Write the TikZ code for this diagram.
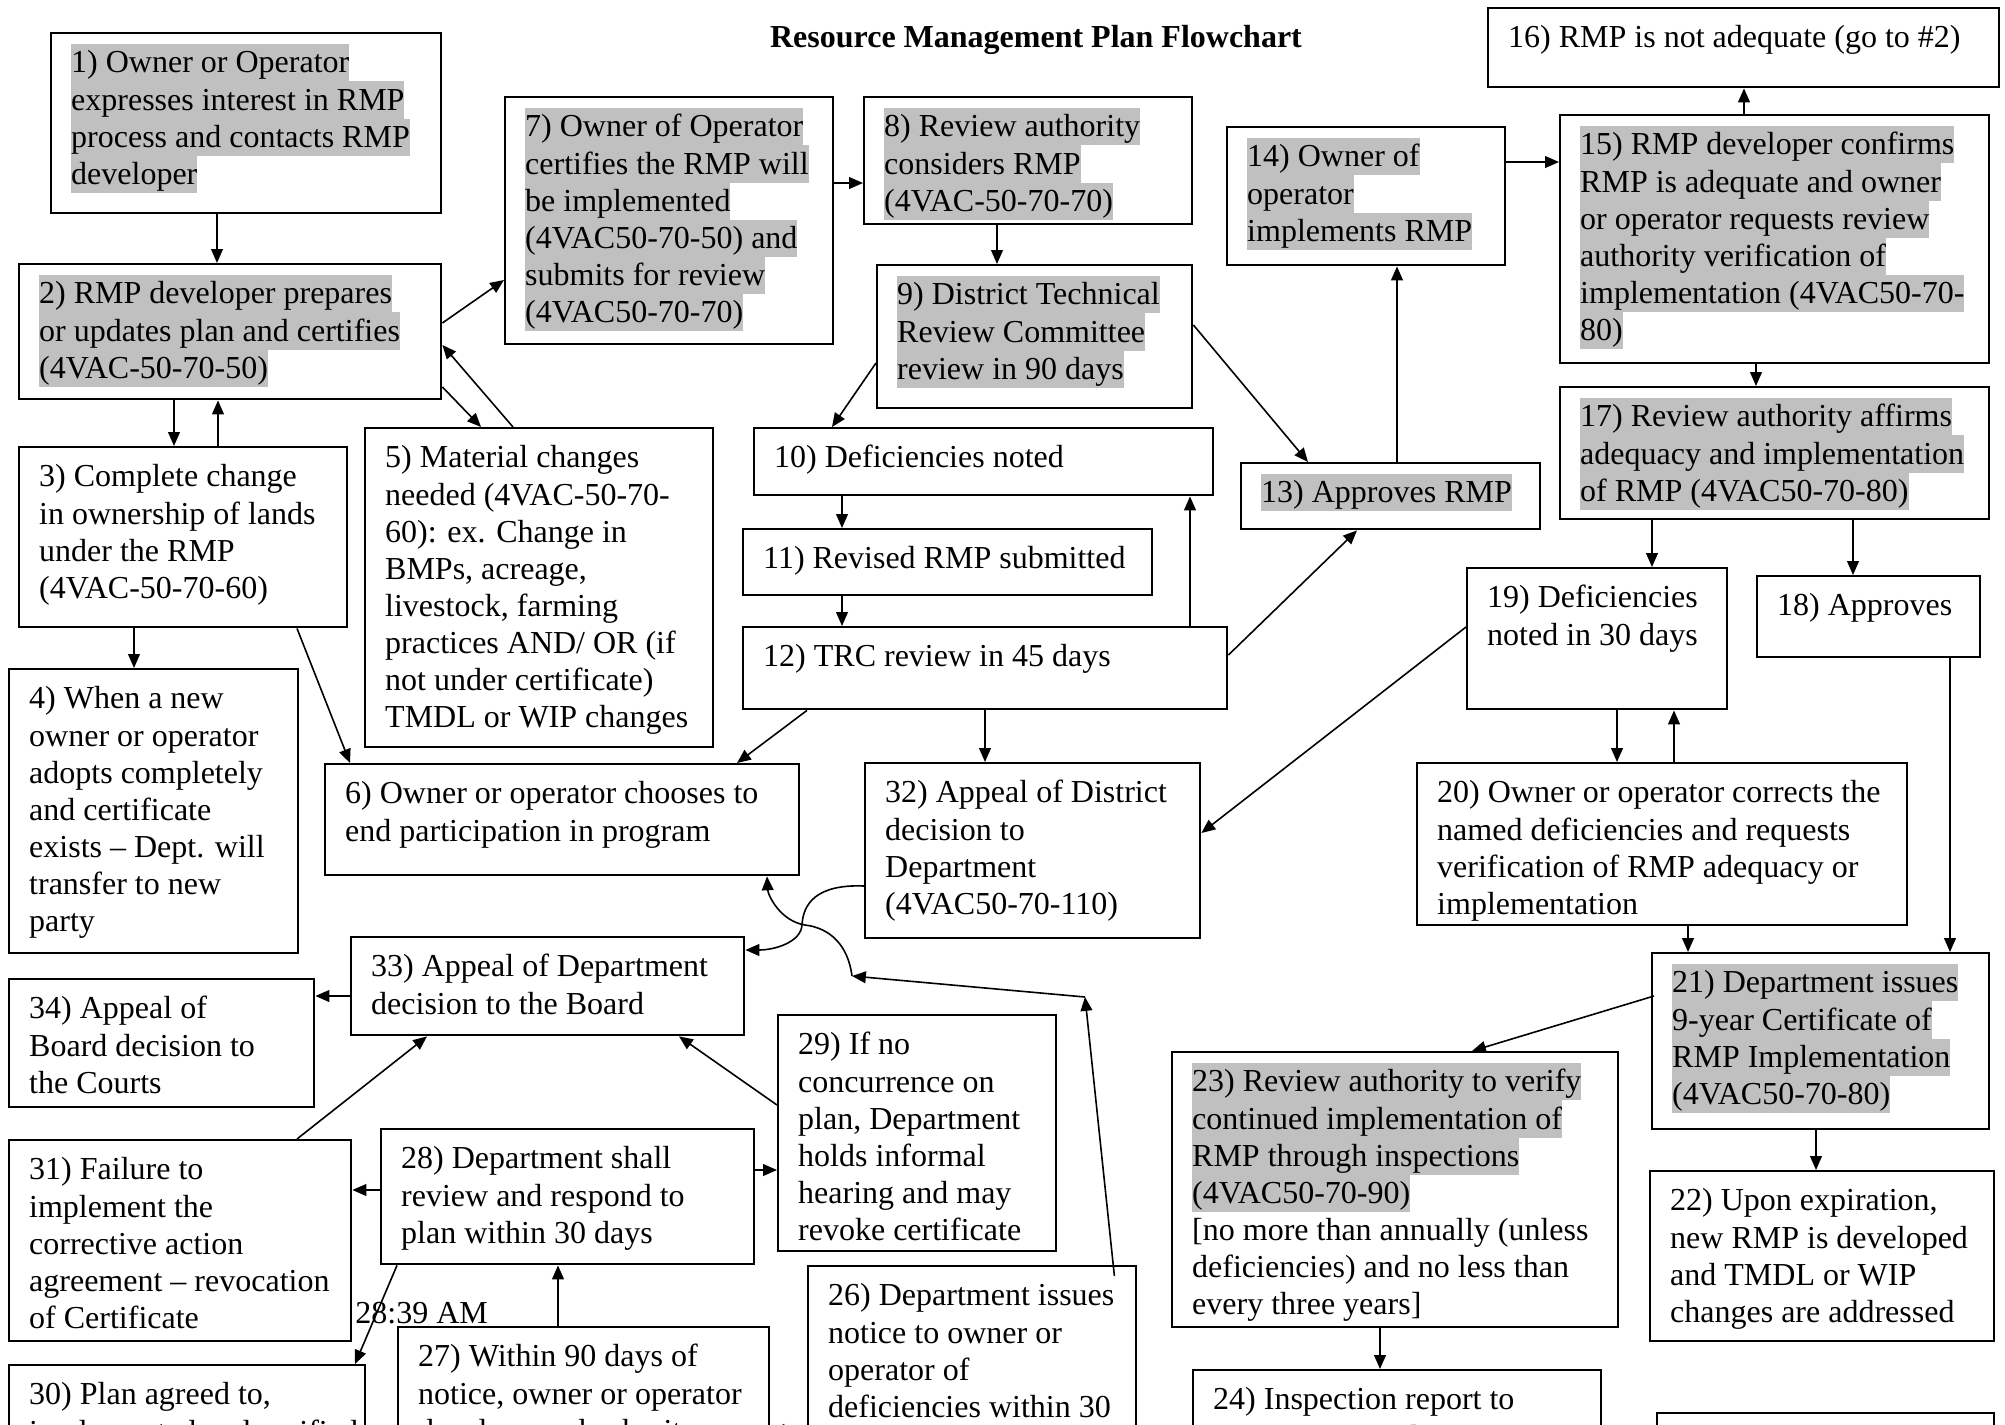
\documentclass[tikz,border=0pt]{standalone}
\usepackage{fontspec}
\setmainfont{Liberation Serif}
\usetikzlibrary{arrows.meta, calc}
\definecolor{hlgrey}{HTML}{C0C0C0}
\newdimen\pxu
\pxu=0.375pt
\newcommand{\lnstrut}{\rule[-3.2pt]{0pt}{13.9pt}}
\newcommand{\hlgray}[1]{{\setlength{\fboxsep}{0pt}\colorbox{hlgrey}{\lnstrut#1}}}
\newcommand{\boxtext}[3]{\makebox[\dimexpr#1\pxu-15pt\relax][l]{\parbox[t][\dimexpr#2\pxu-8.4pt\relax][t]{\dimexpr#1\pxu+20pt\relax}{\raggedright\lnstrut#3}}}

\begin{document}
\begin{tikzpicture}[x=0.375pt, y=-0.375pt,
    % cajas de texto
    box/.style={draw, line width=0.9pt, anchor=north west, inner xsep=7.5pt, inner ysep=4.2pt,
        font=\fontsize{12}{13.9}\selectfont},
    % flechas
    arr/.style={-{Triangle[length=5.2pt,width=4.4pt]}, line width=0.6pt},
    title/.style={font=\fontsize{12}{13.9}\selectfont\bfseries}
]
\path[use as bounding box, clip] (0,0) rectangle (2005,1425);

% === TITULO ===
\node[title, anchor=base] (ttl) at (1036,47) {Resource Management Plan Flowchart};

% === COLUMNA IZQUIERDA ===
\node[box] (b1) at (50,32) {\boxtext{390}{180}{\hlgray{1) Owner or Operator}\\\hlgray{expresses interest in RMP}\\\hlgray{process and contacts RMP}\\\hlgray{developer}}};
\node[box] (b2) at (18,263) {\boxtext{422}{135}{\hlgray{2) RMP developer prepares}\\\hlgray{or updates plan and certifies}\\\hlgray{(4VAC-50-70-50)}}};
\node[box] (b3) at (18,446) {\boxtext{328}{180}{3) Complete change\\in ownership of lands\\under the RMP\\(4VAC-50-70-60)}};
\node[box] (b4) at (8,668) {\boxtext{289}{284}{4) When a new\\owner or operator\\adopts completely\\and certificate\\exists -- Dept. will\\transfer to new\\party}};
\node[box] (b5) at (364,427) {\boxtext{348}{319}{5) Material changes\\needed (4VAC-50-70-\\60): ex. Change in\\BMPs, acreage,\\livestock, farming\\practices AND/ OR (if\\not under certificate)\\TMDL or WIP changes}};
\node[box] (b6) at (324,763) {\boxtext{474}{111}{6) Owner or operator chooses to\\end participation in program}};

% === FILA SUPERIOR ===
\node[box] (b7) at (504,96) {\boxtext{328}{247}{\hlgray{7) Owner of Operator}\\\hlgray{certifies the RMP will}\\\hlgray{be implemented}\\\hlgray{(4VAC50-70-50) and}\\\hlgray{submits for review}\\\hlgray{(4VAC50-70-70)}}};
\node[box] (b8) at (863,96) {\boxtext{328}{127}{\hlgray{8) Review authority}\\\hlgray{considers RMP}\\\hlgray{(4VAC-50-70-70)}}};
\node[box] (b9) at (876,264) {\boxtext{315}{143}{\hlgray{9) District Technical}\\\hlgray{Review Committee}\\\hlgray{review in 90 days}}};
\node[box] (b10) at (753,427) {\boxtext{459}{67}{10) Deficiencies noted}};
\node[box] (b11) at (742,528) {\boxtext{409}{66}{11) Revised RMP submitted}};
\node[box] (b12) at (742,626) {\boxtext{484}{82}{12) TRC review in 45 days}};
\node[box] (b13) at (1240,462) {\boxtext{299}{66}{\hlgray{13) Approves RMP}}};
\node[box] (b14) at (1226,126) {\boxtext{278}{138}{\hlgray{14) Owner of}\\\hlgray{operator}\\\hlgray{implements RMP}}};

% === COLUMNA DERECHA ===
\node[box] (b16) at (1487,7) {\boxtext{511}{79}{16) RMP is not adequate (go to \#2)}};
\node[box] (b15) at (1559,114) {\boxtext{429}{248}{\hlgray{15) RMP developer confirms}\\\hlgray{RMP is adequate and owner}\\\hlgray{or operator requests review}\\\hlgray{authority verification of}\\\hlgray{implementation (4VAC50-70-}\\\hlgray{80)}}};
\node[box] (b17) at (1559,386) {\boxtext{429}{132}{\hlgray{17) Review authority affirms}\\\hlgray{adequacy and implementation}\\\hlgray{of RMP (4VAC50-70-80)}}};
\node[box] (b18) at (1756,575) {\boxtext{223}{81}{18) Approves}};
\node[box] (b19) at (1466,567) {\boxtext{260}{141}{19) Deficiencies\\noted in 30 days}};
\node[box] (b20) at (1416,762) {\boxtext{490}{162}{20) Owner or operator corrects the\\named deficiencies and requests\\verification of RMP adequacy or\\implementation}};
\node[box] (b21) at (1651,952) {\boxtext{337}{176}{\hlgray{21) Department issues}\\\hlgray{9-year Certificate of}\\\hlgray{RMP Implementation}\\\hlgray{(4VAC50-70-80)}}};
\node[box] (b22) at (1649,1170) {\boxtext{344}{170}{22) Upon expiration,\\new RMP is developed\\and TMDL or WIP\\changes are addressed}};
\node[box] (b23) at (1171,1051) {\boxtext{446}{275}{\hlgray{23) Review authority to verify}\\\hlgray{continued implementation of}\\\hlgray{RMP through inspections}\\\hlgray{(4VAC50-70-90)}\\{}[no more than annually (unless\\deficiencies) and no less than\\every three years]}};
\node[box] (b24) at (1192,1369) {\boxtext{408}{200}{24) Inspection report to\\Department and owner or}};
\node[box] (bnext) at (1656,1412) {\boxtext{337}{150}{}};

% === ZONA INFERIOR ===
\node[box] (b32) at (864,762) {\boxtext{335}{175}{32) Appeal of District\\decision to\\Department\\(4VAC50-70-110)}};
\node[box] (b33) at (350,936) {\boxtext{393}{98}{33) Appeal of Department\\decision to the Board}};
\node[box] (b34) at (8,978) {\boxtext{305}{128}{34) Appeal of\\Board decision to\\the Courts}};
\node[box] (b29) at (777,1014) {\boxtext{278}{236}{29) If no\\concurrence on\\plan, Department\\holds informal\\hearing and may\\revoke certificate}};
\node[box] (b28) at (380,1128) {\boxtext{373}{135}{28) Department shall\\review and respond to\\plan within 30 days}};
\node[box] (b31) at (8,1139) {\boxtext{342}{201}{31) Failure to\\implement the\\corrective action\\agreement -- revocation\\of Certificate}};
\node[box] (b26) at (807,1265) {\boxtext{328}{250}{26) Department issues\\notice to owner or\\operator of\\deficiencies within 30}};
\node[box] (b27) at (397,1326) {\boxtext{371}{200}{27) Within 90 days of\\notice, owner or operator\\develops and submits}};
\node[box] (b30) at (8,1364) {\boxtext{356}{200}{30) Plan agreed to,\\implemented and verified}};
\node[anchor=base west, font=\fontsize{12}{13.9}\selectfont] (stamp) at (346,1323) {28:39 AM};

\coordinate (cornerA) at (1085,997);
\coordinate (bendB) at (852,976);

% === CONECTORES ===
\draw[arr] ($(b1.south west)+(167,0)$) -- ($(b2.north west)+(199,0)$);
\draw[arr] ($(b2.north east)+(0,60)$) -- ($(b7.north west)+(0,184)$);
\draw[arr] ($(b7.north east)+(0,87)$) -- ($(b8.north west)+(0,87)$);
\draw[arr] ($(b2.south west)+(156,0)$) -- ($(b3.north west)+(156,0)$);
\draw[arr] ($(b3.north west)+(200,0)$) -- ($(b2.south west)+(200,0)$);
\draw[arr] ($(b2.north east)+(0,124)$) -- ($(b5.north west)+(117,0)$);
\draw[arr] ($(b5.north west)+(149,0)$) -- ($(b2.north east)+(0,82)$);
\draw[arr] ($(b3.south west)+(116,0)$) -- ($(b4.north west)+(126,0)$);
\draw[arr] ($(b3.south west)+(279,0)$) -- ($(b6.north west)+(26,0)$);
\draw[arr] ($(b8.south west)+(134,0)$) -- ($(b9.north west)+(121,0)$);
\draw[arr] ($(b9.north west)+(0,99)$) -- ($(b10.north west)+(79,0)$);
\draw[arr] ($(b10.south west)+(89,0)$) -- ($(b11.north west)+(100,0)$);
\draw[arr] ($(b11.south west)+(100,0)$) -- ($(b12.north west)+(100,0)$);
\draw[arr] ($(b12.north west)+(448,0)$) -- ($(b10.south west)+(437,0)$);
\draw[arr] ($(b12.south west)+(65,0)$) -- ($(b6.north west)+(413,0)$);
\draw[arr] ($(b12.south west)+(243,0)$) -- ($(b32.north west)+(121,0)$);
\draw[arr] ($(b9.north east)+(0,61)$) -- ($(b13.north west)+(68,0)$);
\draw[arr] ($(b12.north east)+(0,29)$) -- ($(b13.south west)+(117,0)$);
\draw[arr] ($(b13.north west)+(157,0)$) -- ($(b14.south west)+(171,0)$);
\draw[arr] ($(b14.north east)+(0,36)$) -- ($(b15.north west)+(0,48)$);
\draw[arr] ($(b15.north west)+(185,0)$) -- ($(b16.south west)+(257,0)$);
\draw[arr] ($(b15.south west)+(197,0)$) -- ($(b17.north west)+(197,0)$);
\draw[arr] ($(b17.south west)+(93,0)$) -- ($(b19.north west)+(186,0)$);
\draw[arr] ($(b17.south west)+(294,0)$) -- ($(b18.north west)+(97,0)$);
\draw[arr] ($(b19.north west)+(0,60)$) -- ($(b32.north east)+(0,71)$);
\draw[arr] ($(b19.south west)+(151,0)$) -- ($(b20.north west)+(201,0)$);
\draw[arr] ($(b20.north west)+(258,0)$) -- ($(b19.south west)+(208,0)$);
\draw[arr] ($(b20.south west)+(272,0)$) -- ($(b21.north west)+(37,0)$);
\draw[arr] ($(b18.south west)+(194,0)$) -- ($(b21.north west)+(299,0)$);
\draw[arr] ($(b21.north west)+(3,44)$) -- ($(b23.north west)+(301,0)$);
\draw[arr] ($(b21.south west)+(165,0)$) -- ($(b22.north west)+(167,0)$);
\draw[arr] ($(b23.south west)+(209,0)$) -- ($(b24.north west)+(188,0)$);
% curvas de apelacion
\draw[arr] ($(b32.north west)+(0,124)$) .. controls (815,884) and (803,905) .. (802,925)
    .. controls (801,942) and (775,950) .. ($(b33.north east)+(0,14)$);
\draw[arr] ($(b26.north east)+(-23,11)$) -- (cornerA);
\draw[arr] (cornerA) -- (bendB);
\draw[arr] (bendB) .. controls (848,945) and (830,928) .. (805,925)
    .. controls (780,921) and (768,895) .. ($(b6.south west)+(443,0)$);
\draw[arr] ($(b33.north west)+(0,60)$) -- ($(b34.north east)+(0,18)$);
\draw[arr] ($(b31.north west)+(289,0)$) -- ($(b33.south west)+(77,0)$);
\draw[arr] ($(b29.north west)+(0,91)$) -- ($(b33.south west)+(329,0)$);
\draw[arr] ($(b28.north west)+(0,62)$) -- ($(b31.north east)+(0,51)$);
\draw[arr] ($(b28.north east)+(0,42)$) -- ($(b29.north west)+(0,156)$);
\draw[arr] ($(b28.south west)+(17,0)$) -- ($(b30.north west)+(347,0)$);
\draw[arr] ($(b27.north west)+(161,0)$) -- ($(b28.south west)+(178,0)$);
\draw[arr] ($(b26.north west)+(0,165)$) -- ($(b27.north east)+(0,104)$);

\end{tikzpicture}
\end{document}
